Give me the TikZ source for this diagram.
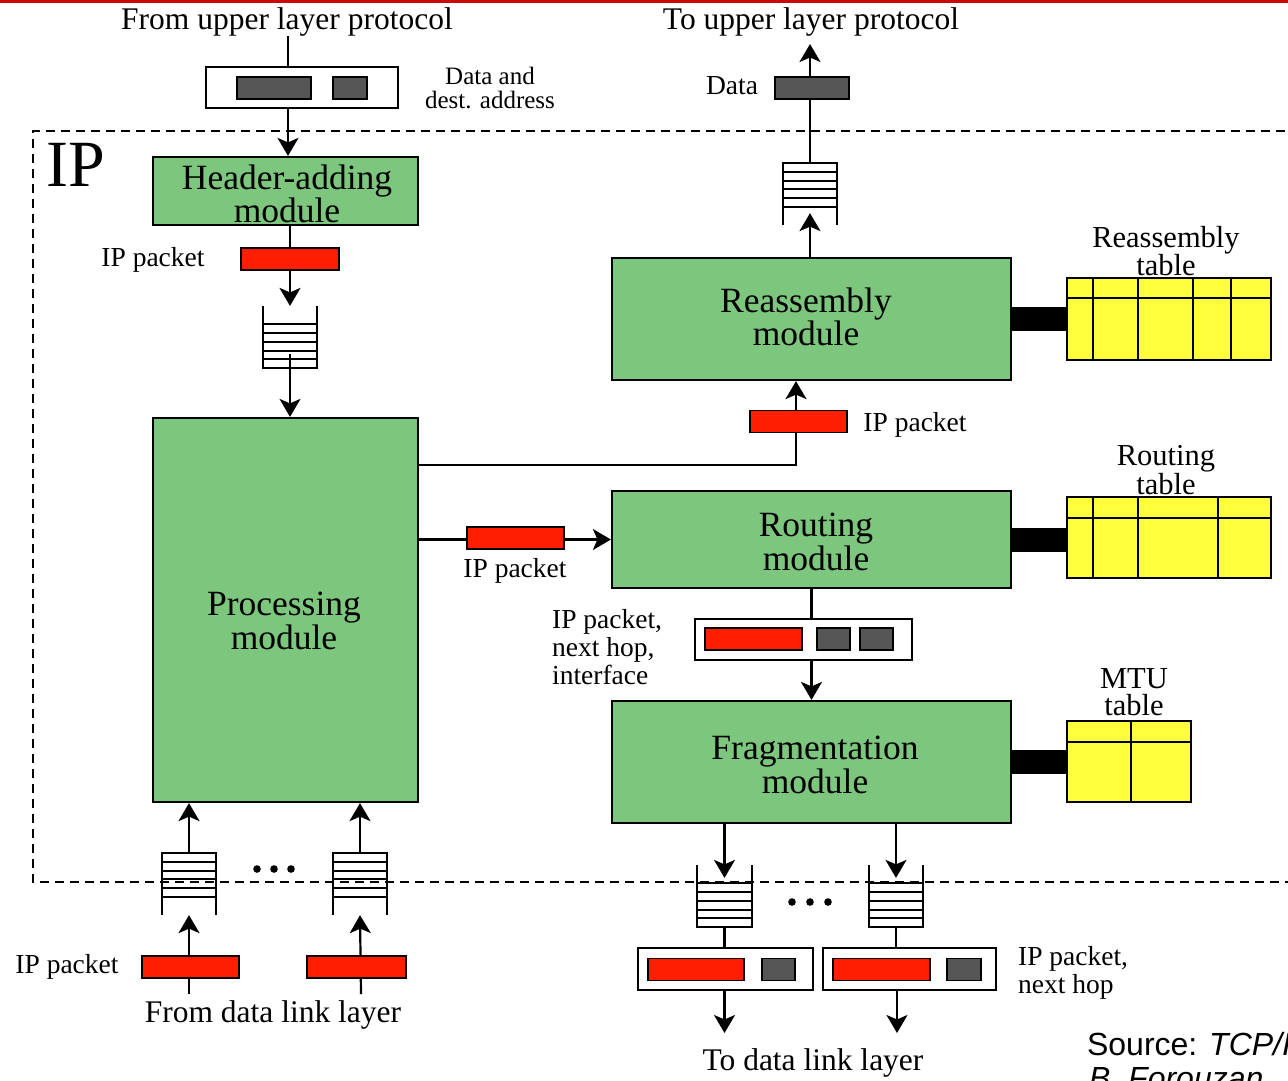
\documentclass[tikz,border=0pt]{standalone}
\usepackage{fontspec}
\setmainfont{Liberation Serif}
\newfontfamily\srcfont{Liberation Sans}
\usetikzlibrary{arrows.meta,calc}
\pgfdeclarelayer{bg}
\pgfsetlayers{bg,main}
\definecolor{modgreen}{RGB}{125,198,125}
\definecolor{pktred}{RGB}{255,30,0}
\definecolor{darkg}{RGB}{85,85,85}
\definecolor{tabyellow}{RGB}{255,255,60}
\definecolor{topred}{RGB}{200,10,10}
\newcommand{\myfsmall}{\fontsize{27.5}{28}\selectfont}
\newcommand{\myfdata}{\fontsize{25}{24.5}\selectfont}
\newcommand{\myfmid}{\fontsize{31.5}{27}\selectfont}
\newcommand{\myftab}{\fontsize{30.5}{27.5}\selectfont}
\newcommand{\myfmod}{\fontsize{35.5}{31}\selectfont}
\newcommand{\qopentop}[1]{%
  \draw[qline] (#1.north west) -- (#1.south west) -- (#1.south east) -- (#1.north east);
  \foreach \k in {1,...,5}{\draw[qline] ($(#1.south west)+(0,-\k*8.8)$) -- ($(#1.south east)+(0,-\k*8.8)$);}}
\newcommand{\qopenbottom}[1]{%
  \draw[qline] (#1.south west) -- (#1.north west) -- (#1.north east) -- (#1.south east);
  \foreach \k in {1,...,5}{\draw[qline] ($(#1.north west)+(0,\k*8.8)$) -- ($(#1.north east)+(0,\k*8.8)$);}}
\begin{document}
\begin{tikzpicture}[x=1pt,y=-1pt,
  line width=2.2pt,
  >={Stealth[length=18pt,width=21pt,inset=4.5pt]},
  module/.style={draw, fill=modgreen, inner sep=0, align=center, font=\myfmod},
  modtext/.style={inner sep=0, align=center, font=\myfmod},
  pkt/.style={draw, fill=pktred, minimum height=22, inner sep=0, line width=1.6pt},
  dpkt/.style={draw, fill=darkg, minimum height=22, inner sep=0, line width=1.6pt},
  frame/.style={draw, fill=white, inner sep=0},
  queue/.style={minimum width=52, minimum height=60, inner sep=0},
  qline/.style={line width=2pt},
  tabl/.style={draw, fill=tabyellow, inner sep=0},
  lbl/.style={inner sep=0, font=\myfsmall},
  big/.style={inner sep=0, font=\myfmid, align=center},
  tlbl/.style={inner sep=0, font=\myftab, align=center},
  bar/.style={line width=24pt},
  conn/.style={line width=2.2pt},
  ipframe/.style={dash pattern=on 9pt off 6pt, line width=2pt}
]
\useasboundingbox (0,0) rectangle (1288,1080);
\clip (0,0) rectangle (1288,1080);

% ---- modules ----
\node[module, minimum width=265, minimum height=68] (hdr) at (285.5,191) {};
\node[modtext] (hdrt) at (287,193.5) {Header-adding\\module};
\node[module, minimum width=265, minimum height=384] (proc) at (285.5,610) {};
\node[modtext] (proct) at (284,621) {Processing\\module};
\node[module, minimum width=399, minimum height=122] (reas) at (811.5,319) {};
\node[modtext] (reast) at (806,317) {Reassembly\\module};
\node[module, minimum width=399, minimum height=97] (rout) at (811.5,539.5) {};
\node[modtext] (routt) at (816,542) {Routing\\module};
\node[module, minimum width=399, minimum height=122] (frag) at (811.5,762) {};
\node[modtext] (fragt) at (815,765) {Fragmentation\\module};

% ---- labels ----
\node[big] (fromup) at (287,22) {From upper layer protocol};
\node[big] (toup) at (811,22) {To upper layer protocol};
\node[inner sep=0, font=\myfdata, align=center] (dalbl) at (490,88) {Data and\\dest. address};
\node[lbl] (datalbl) at (732,86) {Data};
\node[inner sep=0, font=\fontsize{66}{66}\selectfont] (iplbl) at (76,165) {IP};
\node[lbl] (ipl1) at (153,260) {IP packet};
\node[lbl] (ipl2) at (915,425) {IP packet};
\node[lbl] (ipl3) at (515,571) {IP packet};
\node[lbl, align=left, anchor=west] (ipl4) at (551,647) {IP packet,\\next hop,\\interface};
\node[lbl] (ipl5) at (67,967) {IP packet};
\node[lbl, align=left, anchor=west] (ipl6) at (1017,973) {IP packet,\\next hop};
\node[big] (fromdl) at (273,1015) {From data link layer};
\node[big] (todl) at (813,1063) {To data link layer};
\node[tlbl] (rtablbl) at (1166,251) {Reassembly\\table};
\node[tlbl] (ttablbl) at (1166,470) {Routing\\table};
\node[tlbl] (mtablbl) at (1134,692) {MTU\\table};
\node[inner sep=0, anchor=base west, font=\srcfont\fontsize{32}{34}\selectfont] (src1) at (1086,1055) {Source: \textit{TCP/IP Protocol Suite}};
\node[inner sep=0, anchor=base west, font=\srcfont\fontsize{32}{34}\selectfont] (src2) at (1088,1089) {\textit{B. Forouzan}};

% ---- packets and frames ----
\node[frame, minimum width=192, minimum height=41] (inbox) at (302,87.5) {};
\node[dpkt, minimum width=74] (ind1) at (274,88) {};
\node[dpkt, minimum width=34] (ind2) at (350,88) {};
\node[dpkt, minimum width=74] (dbox) at (812,88) {};
\node[pkt, minimum width=98] (hp) at (290,259) {};
\node[pkt, minimum width=97] (rp) at (798.5,421.5) {};
\node[pkt, minimum width=97] (tp) at (515.5,538) {};
\node[frame, minimum width=217, minimum height=41] (rb) at (803.5,639.5) {};
\node[pkt, minimum width=97] (rb1) at (753.5,639) {};
\node[dpkt, minimum width=33] (rb2) at (833.5,639) {};
\node[dpkt, minimum width=33] (rb3) at (876.5,639) {};
\node[frame, minimum width=175, minimum height=42] (ob1) at (725.5,969) {};
\node[pkt, minimum width=96] (ob1a) at (696,969.5) {};
\node[dpkt, minimum width=33] (ob1b) at (778.5,969.5) {};
\node[frame, minimum width=173, minimum height=42] (ob2) at (909.5,969) {};
\node[pkt, minimum width=97] (ob2a) at (881.5,969.5) {};
\node[dpkt, minimum width=34] (ob2b) at (964,969.5) {};
\node[pkt, minimum width=97] (bp1) at (190.5,967) {};
\node[pkt, minimum width=99] (bp2) at (356.5,967) {};

% ---- queues ----
\node[queue] (q1) at (290,337) {};
\node[queue] (q2) at (810,194) {};
\node[queue] (q4) at (724.5,896) {};
\node[queue] (q5) at (896,896) {};
\node[queue] (q6) at (189,884) {};
\node[queue] (q7) at (360,884) {};
\qopentop{q1}
\qopenbottom{q2}
\qopentop{q4}
\qopentop{q5}
\qopenbottom{q6}
\qopenbottom{q7}

% ---- tables ----
\node[tabl, minimum width=204, minimum height=82] (rtab) at (1169,319) {};
\draw ($(rtab.north west)+(0,21)$) -- ($(rtab.north east)+(0,21)$);
\foreach \dx in {27,72,127,165}{\draw ($(rtab.north west)+(\dx,0)$) -- ($(rtab.south west)+(\dx,0)$);}
\node[tabl, minimum width=204, minimum height=81] (ttab) at (1169,537.5) {};
\draw ($(ttab.north west)+(0,22)$) -- ($(ttab.north east)+(0,22)$);
\foreach \dx in {27,72,152}{\draw ($(ttab.north west)+(\dx,0)$) -- ($(ttab.south west)+(\dx,0)$);}
\node[tabl, minimum width=124, minimum height=81] (mtab) at (1129,761.5) {};
\draw ($(mtab.north west)+(0,22)$) -- ($(mtab.north east)+(0,22)$);
\draw ($(mtab.north west)+(65,0)$) -- ($(mtab.south west)+(65,0)$);

% ---- dots ----
\foreach \xx in {257,274,291}{\fill (\xx,869) circle (3.8);}
\foreach \xx in {792,810,828}{\fill (\xx,902) circle (3.8);}

% ---- free connector ends ----
\coordinate (c1) at (288,36);
\coordinate (upout) at (810,44);
\coordinate (j1) at (796,465);
\coordinate (in1) at (189,994);
\coordinate (in2) at (361,994);
\coordinate (dl1) at (724.5,1033);
\coordinate (dl2) at (897,1033);

\begin{pgfonlayer}{bg}
\fill[white] (0,0) rectangle (1288,1080);
\fill[topred] (0,0) rectangle (1288,3);
\draw[ipframe] (1300,131) -- (33,131) -- (33,882) -- (1300,882);
% top left input
\draw[conn] (c1) -- (c1 |- inbox.north);
\draw[conn,->] (c1 |- inbox.south) -- (c1 |- hdr.north);
\draw[conn,->] (q1 |- hdr.south) -- (q1.north);
\draw[conn,->] ($(q1.south)+(0,-14)$) -- (q1 |- proc.north);
% up to upper layer
\draw[conn,->] (q2 |- reas.north) -- ($(q2.south)+(0,-12)$);
\draw[conn,->] (q2.north) -- (upout);
% processing -> reassembly
\draw[conn,->] (j1 -| proc.east) -- (j1) -- (j1 |- reas.south);
% processing -> routing
\draw[conn,->] (rout.west -| proc.east) -- (rout.west);
% routing -> fragmentation
\draw[conn] (rout.south) -- (rout.south |- rb.north);
\draw[conn,->] (rout.south |- rb.south) -- (frag.north);
% fragmentation -> outputs
\draw[conn,->] (q4 |- frag.south) -- ($(q4.north)+(0,13)$);
\draw[conn,->] (q5 |- frag.south) -- ($(q5.north)+(0,13)$);
\draw[conn] (q4.south) -- (q4.south |- ob1.north);
\draw[conn] (q5.south) -- (q5.south |- ob2.north);
\draw[conn,->] (dl1 |- ob1.south) -- (dl1);
\draw[conn,->] (dl2 |- ob2.south) -- (dl2);
% inputs from data link
\draw[conn,->] (in1) -- (q6.south);
\draw[conn,->] (in2) -- (q7.south);
\draw[conn,->] (q6.north) -- (q6.north |- proc.south);
\draw[conn,->] (q7.north) -- (q7.north |- proc.south);
% table bars
\draw[bar] (reas.east) -- (reas.east -| rtab.west);
\draw[bar] (rout.east) -- (rout.east -| ttab.west);
\draw[bar] (frag.east) -- (frag.east -| mtab.west);
\end{pgfonlayer}
\end{tikzpicture}
\end{document}
